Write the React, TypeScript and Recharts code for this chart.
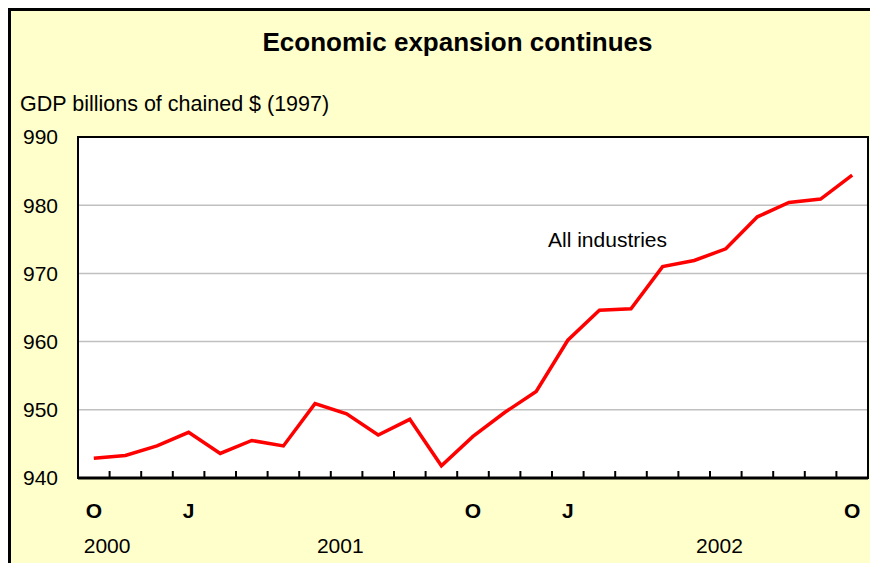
import React from 'react'
import { LineChart, Line, XAxis, YAxis, CartesianGrid, ReferenceArea } from 'recharts'

// monthly GDP readings, Oct 2000 - Oct 2002
const periods = [
  '2000-10', '2000-11', '2000-12',
  '2001-01', '2001-02', '2001-03', '2001-04', '2001-05', '2001-06',
  '2001-07', '2001-08', '2001-09', '2001-10', '2001-11', '2001-12',
  '2002-01', '2002-02', '2002-03', '2002-04', '2002-05', '2002-06',
  '2002-07', '2002-08', '2002-09', '2002-10',
]
const gdp = [
  942.9, 943.3, 944.7, 946.7, 943.6, 945.5, 944.7, 950.9, 949.4, 946.3,
  948.6, 941.8, 946.1, 949.6, 952.7, 960.2, 964.6, 964.8, 971.0, 971.9,
  973.6, 978.3, 980.4, 980.9, 984.4,
]
const yTicks = [940, 950, 960, 970, 980, 990]
const labelledMonths = ['2000-10', '2001-01', '2001-10', '2002-01', '2002-10']
const monthLetter: Record<string, string> = { '10': 'O', '01': 'J' }
const years = ['2000', '2001', '2002']
const yearPos = [0.92, 8.3, 20.3]

const data = periods.map((p, i) => ({ period: p, x: i + 0.5, gdp: gdp[i] }))
const boundaryTicks = periods.slice(1).map((_, i) => i + 1)
const monthTicks = labelledMonths.map((m) => periods.indexOf(m) + 0.5)

const font = '"Liberation Sans", Arial, sans-serif'

const TickMark = (props: any) => (
  <line x1={props.x} x2={props.x} y1={props.y} y2={props.y - 7} stroke="#000" strokeWidth={2} />
)

const MonthTick = (props: any) => {
  const idx = Math.round(props.payload.value - 0.5)
  const letter = monthLetter[periods[idx].slice(5)]
  return (
    <text x={props.x} y={props.y + 30} textAnchor="middle" dominantBaseline="central"
      fontFamily={font} fontSize={21} fontWeight="bold" fill="#000">
      {letter}
    </text>
  )
}

const YearTick = (props: any) => {
  const i = yearPos.indexOf(props.payload.value)
  return (
    <text x={props.x} y={props.y + 15} textAnchor="middle" dominantBaseline="central"
      fontFamily={font} fontSize={21} fill="#000">
      {years[i]}
    </text>
  )
}

export default function App() {
  return (
    <div style={{ position: 'relative', width: 867, height: 552, background: '#FFFFCC',
      borderLeft: '3px solid #000', borderTop: '3px solid #000', fontFamily: font, overflow: 'hidden' }}>
      <div style={{ position: 'absolute', top: 18, left: 446.5, transform: 'translateX(-50%)',
        whiteSpace: 'nowrap', fontSize: 26, lineHeight: '26px', fontWeight: 'bold' }}>
        Economic expansion continues
      </div>
      <div style={{ position: 'absolute', top: 82, left: 9, fontSize: 21.5, lineHeight: '22px', whiteSpace: 'nowrap' }}>
        GDP billions of chained $ (1997)
      </div>
      <div style={{ position: 'absolute', top: 218, left: 537, fontSize: 21, lineHeight: '22px', whiteSpace: 'nowrap', zIndex: 2 }}>
        All industries
      </div>
      <LineChart width={867} height={552} data={data} margin={{ top: 126, right: 10, left: 0, bottom: 0 }}>
        <CartesianGrid xAxisId="a" vertical={false} stroke="#C0C0C0" strokeWidth={1.5} fill="#fff" fillOpacity={1} />
        <XAxis xAxisId="a" type="number" dataKey="x" domain={[0, 25]} ticks={boundaryTicks}
          height={2} tickSize={0} tickMargin={0} tick={<TickMark />} interval={0}
          axisLine={{ stroke: '#000', strokeWidth: 3 }} />
        <XAxis xAxisId="b" type="number" dataKey="x" domain={[0, 25]} ticks={monthTicks}
          height={50} tickSize={0} tickMargin={0} tick={<MonthTick />} interval={0}
          axisLine={false} tickLine={false} />
        <XAxis xAxisId="c" type="number" dataKey="x" domain={[0, 25]} ticks={yearPos}
          height={33} tickSize={0} tickMargin={0} tick={<YearTick />} interval={0}
          axisLine={false} tickLine={false} />
        <YAxis type="number" domain={[940, 990]} ticks={yTicks} width={67} interval={0}
          axisLine={false} tickLine={false} tickSize={0} tickMargin={20}
          tick={{ fontSize: 21, fill: '#000', fontFamily: font }} />
        <ReferenceArea xAxisId="a" x1={0} x2={25} y1={940} y2={990} fill="none" stroke="#000" strokeWidth={2} ifOverflow="visible" />
        <Line xAxisId="a" type="linear" dataKey="gdp" stroke="#FF0000" strokeWidth={3.5}
          dot={false} activeDot={false} isAnimationActive={false} />
      </LineChart>
    </div>
  )
}
